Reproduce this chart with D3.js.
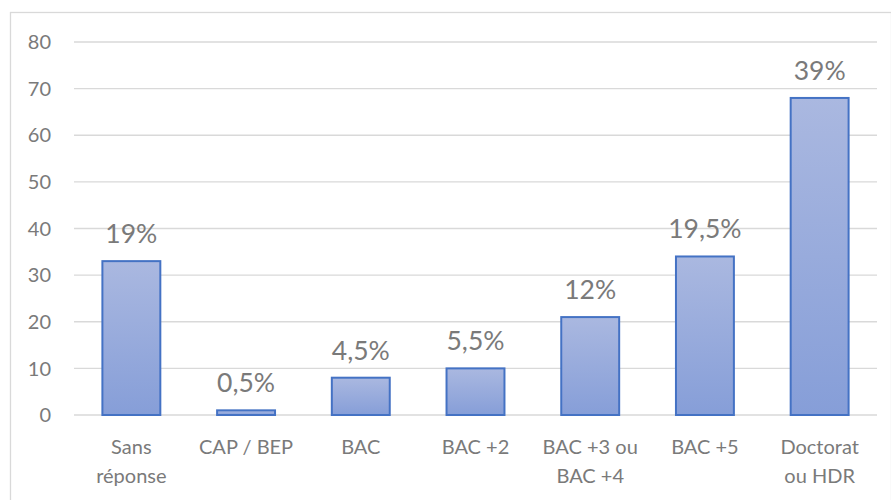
<!DOCTYPE html>
<html>
<head>
<meta charset="utf-8">
<script src="https://cdn.jsdelivr.net/npm/d3@7"></script>
<style>
  body { margin: 0; background: #fff; }
  text { font-family: Lato, "Open Sans", sans-serif; fill: #7a7a7a; }
</style>
</head>
<body>
<div id="chart"></div>
<script>
// categories (two lines each) and values
var categories = [['Sans', 'réponse'], ['CAP / BEP'], ['BAC'], ['BAC +2'], ['BAC +3 ou', 'BAC +4'], ['BAC +5'], ['Doctorat', 'ou HDR']]
var values = [33, 1, 8, 10, 21, 34, 68]
var percentLabels = ['19%', '0,5%', '4,5%', '5,5%', '12%', '19,5%', '39%']
var yTicks = [0, 10, 20, 30, 40, 50, 60, 70, 80]

var W = 891, H = 500
var margin = {top: 42, right: 14, bottom: 85, left: 74}
var width = W - margin.left - margin.right
var height = H - margin.top - margin.bottom

var root = d3.select('#chart').append('svg')
    .attr('width', W)
    .attr('height', H)

// outer chart border
root.append('rect')
    .attr('x', 10.5).attr('y', 12.5)
    .attr('width', W - 10).attr('height', H)
    .attr('fill', 'none')
    .attr('stroke', '#d9d9d9')
    .attr('stroke-width', 1.3)

var defs = root.append('defs')
var grad = defs.append('linearGradient')
    .attr('id', 'barGrad')
    .attr('x1', 0).attr('y1', 0).attr('x2', 0).attr('y2', 1)
grad.append('stop').attr('offset', '0%').attr('stop-color', '#aab8e0')
grad.append('stop').attr('offset', '100%').attr('stop-color', '#869ed8')

var svg = root.append('g')
    .attr('transform', `translate(${margin.left}, ${margin.top})`)

var x = d3.scaleBand()
    .domain(d3.range(categories.length))
    .range([0, width])
    .paddingInner(0.495)
    .paddingOuter(0.2475)
var y = d3.scaleLinear().domain([0, 80]).range([height, 0])

// gridlines
svg.append('g')
    .selectAll('line')
    .data(yTicks)
    .enter().append('line')
      .attr('x1', 0)
      .attr('x2', width)
      .attr('y1', d => y(d))
      .attr('y2', d => y(d))
      .attr('stroke', '#d9d9d9')
      .attr('stroke-width', 1.3)

// y axis labels
svg.append('g')
    .selectAll('text')
    .data(yTicks)
    .enter().append('text')
      .attr('x', -23)
      .attr('y', d => y(d))
      .attr('dy', '0.36em')
      .attr('text-anchor', 'end')
      .attr('font-size', 20)
      .text(d => d)

// bars
svg.append('g')
    .selectAll('rect')
    .data(values)
    .enter().append('rect')
      .attr('x', (d, i) => x(i))
      .attr('y', d => y(d))
      .attr('width', x.bandwidth())
      .attr('height', d => y(0) - y(d))
      .attr('fill', 'url(#barGrad)')
      .attr('stroke', '#4472c4')
      .attr('stroke-width', 2)

// value labels
svg.append('g')
    .selectAll('text')
    .data(values)
    .enter().append('text')
      .attr('x', (d, i) => x(i) + x.bandwidth() / 2)
      .attr('y', d => y(d) - 18)
      .attr('text-anchor', 'middle')
      .attr('font-size', 26.5)
      .text((d, i) => percentLabels[i])

// x axis category labels
var xl = svg.append('g')
    .selectAll('text')
    .data(categories)
    .enter().append('text')
      .attr('x', (d, i) => x(i) + x.bandwidth() / 2)
      .attr('y', height + 39)
      .attr('text-anchor', 'middle')
      .attr('font-size', 20)

xl.selectAll('tspan')
    .data(d => d)
    .enter().append('tspan')
      .attr('x', function() { return d3.select(this.parentNode).attr('x') })
      .attr('dy', (d, i) => i === 0 ? 0 : 29)
      .text(d => d)
</script>
</body>
</html>
